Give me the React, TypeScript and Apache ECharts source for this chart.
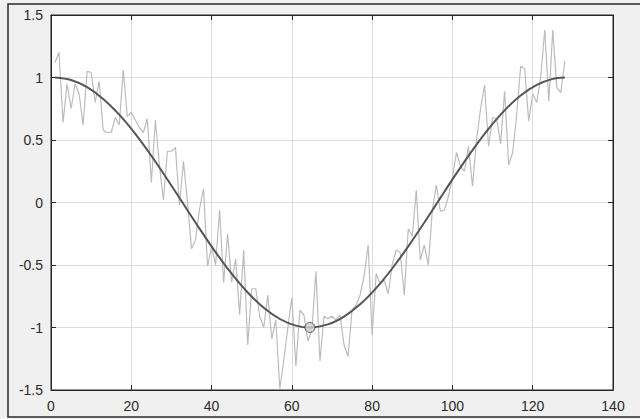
import React, { useEffect, useRef } from "react";
import * as echarts from "echarts";

// Noisy signal samples (x = 1..128)
const noisyX: number[] = Array.from({ length: 128 }, (_, i) => i + 1);
const noisyY: number[] = [
  1.12, 1.2, 0.64, 0.95, 0.75, 0.95, 0.87, 0.62, 1.05, 1.04,
  0.8, 0.97, 0.58, 0.56, 0.56, 0.68, 0.62, 1.06, 0.69, 0.72,
  0.66, 0.6, 0.56, 0.67, 0.16, 0.66, 0.3, 0.02, 0.41, 0.41,
  0.44, -0.02, 0.33, 0.0, -0.37, -0.3, -0.05, 0.11, -0.51, -0.35,
  -0.5, -0.06, -0.64, -0.25, -0.64, -0.45, -0.9, -0.38, -1.14, -0.69,
  -0.69, -0.91, -1.0, -0.74, -1.09, -0.94, -1.49, -1.26, -1.0, -0.76,
  -1.31, -0.86, -0.9, -1.11, -1.02, -0.55, -1.27, -0.91, -0.93, -0.91,
  -0.94, -0.9, -1.14, -1.23, -0.86, -0.82, -0.74, -0.59, -0.34, -1.06,
  -0.57, -0.65, -0.62, -0.73, -0.5, -0.38, -0.4, -0.74, -0.21, -0.27,
  0.1, -0.46, -0.34, -0.5, -0.06, 0.14, -0.07, -0.06, 0.05, 0.2,
  0.4, 0.29, 0.25, 0.45, 0.13, 0.5, 0.75, 0.94, 0.45, 0.68,
  0.67, 0.47, 0.89, 0.3, 0.4, 0.7, 1.09, 1.07, 0.65, 0.87,
  0.8, 1.01, 1.38, 0.81, 1.38, 0.92, 0.88, 1.13,
];

// Smooth reference curve (read at sample points)
const curveX: number[] = [
  1, 5, 9, 13, 17, 21, 25, 29, 33, 37, 41, 45, 49, 53, 57, 61, 64.5,
  69, 73, 77, 81, 85, 89, 93, 97, 101, 105, 109, 113, 117, 121, 125, 128,
];
const curveY: number[] = [
  1.0, 0.9805, 0.9227, 0.8289, 0.7028, 0.5492, 0.3741, 0.1845, -0.0124,
  -0.2088, -0.397, -0.5697, -0.7198, -0.8425, -0.932, -0.985, -1.0,
  -0.9753, -0.9129, -0.8149, -0.6849, -0.5281, -0.351, -0.1601, 0.0371,
  0.2328, 0.4195, 0.5898, 0.7372, 0.8555, 0.9406, 0.989, 1.0,
];

// Marked minimum point
const markerX: number[] = [64.5];
const markerY: number[] = [-1.0];

// Axis settings
const xMin = 0, xMax = 140, xStep = 20;
const yMin = -1.5, yMax = 1.5, yStep = 0.5;

const FONT = "'Liberation Sans', Arial, sans-serif";

export default function App() {
  const ref = useRef<HTMLDivElement>(null);

  useEffect(() => {
    if (!ref.current) return;
    const chart = echarts.init(ref.current, undefined, { renderer: "svg" });

    const baseX = {
      type: "value" as const,
      min: xMin,
      max: xMax,
      interval: xStep,
    };
    const baseY = {
      type: "value" as const,
      min: yMin,
      max: yMax,
      interval: yStep,
    };

    chart.setOption({
      animation: false,
      backgroundColor: "#f0f0f0",
      graphic: [
        {
          type: "rect",
          shape: { x: 8, y: 4, width: 640, height: 413 },
          style: { fill: "none", stroke: "#2a2a2a", lineWidth: 1.5 },
          silent: true,
          z: -1,
        },
      ],
      grid: {
        left: 51,
        top: 15,
        right: 27,
        bottom: 29,
        show: true,
        backgroundColor: "#ffffff",
        borderColor: "#262626",
        borderWidth: 1,
      },
      xAxis: [
        {
          ...baseX,
          position: "bottom",
          axisLine: { show: true, onZero: false, lineStyle: { color: "#262626", width: 1 } },
          axisTick: { show: true, inside: true, length: 5, lineStyle: { color: "#262626" } },
          axisLabel: { color: "#2a2a2a", fontSize: 14, fontFamily: FONT, margin: 9 },
          splitLine: { show: true, lineStyle: { color: "#dcdcdc", width: 1 } },
        },
        {
          ...baseX,
          position: "top",
          axisLine: { show: true, onZero: false, lineStyle: { color: "#262626", width: 1 } },
          axisTick: { show: true, inside: true, length: 5, lineStyle: { color: "#262626" } },
          axisLabel: { show: false },
          splitLine: { show: false },
        },
      ],
      yAxis: [
        {
          ...baseY,
          position: "left",
          axisLine: { show: true, onZero: false, lineStyle: { color: "#262626", width: 1 } },
          axisTick: { show: true, inside: true, length: 5, lineStyle: { color: "#262626" } },
          axisLabel: { color: "#2a2a2a", fontSize: 14, fontFamily: FONT, margin: 8 },
          splitLine: { show: true, lineStyle: { color: "#dcdcdc", width: 1 } },
        },
        {
          ...baseY,
          position: "right",
          axisLine: { show: true, onZero: false, lineStyle: { color: "#262626", width: 1 } },
          axisTick: { show: true, inside: true, length: 5, lineStyle: { color: "#262626" } },
          axisLabel: { show: false },
          splitLine: { show: false },
        },
      ],
      series: [
        {
          type: "line",
          data: noisyX.map((x, i) => [x, noisyY[i]]),
          showSymbol: false,
          symbol: "none",
          lineStyle: { color: "#bcbcbc", width: 1.2 },
          z: 2,
        },
        {
          type: "line",
          data: curveX.map((x, i) => [x, curveY[i]]),
          smooth: 0.3,
          showSymbol: false,
          symbol: "none",
          lineStyle: { color: "#555555", width: 2 },
          z: 3,
        },
        {
          type: "scatter",
          data: markerX.map((x, i) => [x, markerY[i]]),
          symbol: "circle",
          symbolSize: 10,
          itemStyle: { color: "#d0d0d0", borderColor: "#404040", borderWidth: 1 },
          z: 4,
        },
      ],
    });

    return () => chart.dispose();
  }, []);

  return (
    <div
      ref={ref}
      style={{ position: "fixed", left: 0, top: 0, width: 640, height: 419 }}
    />
  );
}
